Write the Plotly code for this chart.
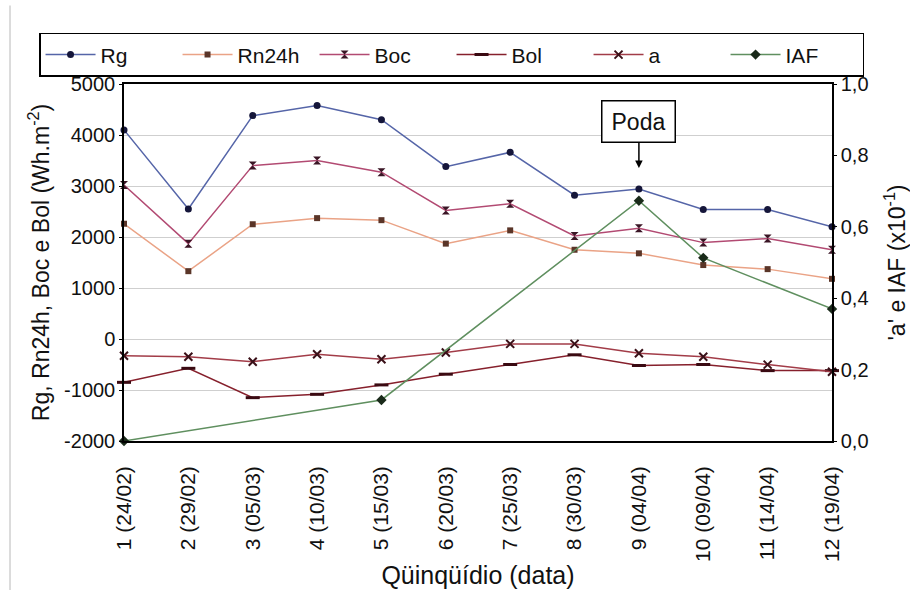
import plotly.graph_objects as go

# Quinquidio labels (number and start date)
categories = ["1 (24/02)", "2 (29/02)", "3 (05/03)", "4 (10/03)", "5 (15/03)", "6 (20/03)",
              "7 (25/03)", "8 (30/03)", "9 (04/04)", "10 (09/04)", "11 (14/04)", "12 (19/04)"]
x_idx = list(range(1, len(categories) + 1))

# Energy terms (Wh.m-2), left axis
rg = [4100, 2550, 4380, 4580, 4300, 3380, 3660, 2820, 2940, 2540, 2540, 2200]
rn24h = [2260, 1330, 2250, 2370, 2330, 1870, 2130, 1750, 1680, 1450, 1370, 1180]
boc = [3020, 1870, 3400, 3500, 3270, 2520, 2650, 2020, 2170, 1890, 1970, 1750]
bol = [-850, -575, -1150, -1085, -900, -690, -500, -310, -520, -500, -620, -620]

# 'a' and leaf area index (x10^-1), right axis; IAF measured on some dates only
a_vals = [0.239, 0.236, 0.222, 0.243, 0.229, 0.248, 0.272, 0.272, 0.246, 0.236, 0.214, 0.194]
iaf = [0.0, None, None, None, 0.115, None, None, None, 0.673, 0.513, None, 0.370]

left_ticks = [-2000, -1000, 0, 1000, 2000, 3000, 4000, 5000]
right_ticks = [0.0, 0.2, 0.4, 0.6, 0.8, 1.0]

FONT = "Liberation Sans, Arial, sans-serif"
INK = "#111111"

fig = go.Figure()

def add_series(name, y, line_color, symbol, marker_color, size, axis="y", mline=0):
    fig.add_trace(go.Scatter(
        x=x_idx, y=y, name=name, mode="lines+markers", yaxis=axis,
        line=dict(color=line_color, width=1.5),
        marker=dict(symbol=symbol, size=size, color=marker_color,
                    line=dict(color=marker_color, width=mline)),
        connectgaps=True, cliponaxis=False,
    ))

add_series("Rg", rg, "#5565a8", "circle", "#15163a", 7)
add_series("Rn24h", rn24h, "#eaa386", "square", "#5a3528", 6)
add_series("Boc", boc, "#b24a72", "hourglass", "#3a1525", 8)
add_series("Bol", bol, "#86202c", "line-ew", "#3a0a12", 10, mline=3)
add_series("a", a_vals, "#a23c48", "x-thin", "#3a1018", 8, axis="y2", mline=2)
add_series("IAF", iaf, "#5f8f5f", "diamond", "#1a2a1a", 8, axis="y2")

fig.update_layout(
    width=910, height=590,
    margin=dict(l=124, r=78, t=84, b=149, autoexpand=False),
    paper_bgcolor="white", plot_bgcolor="white",
    separators=",.",
    font=dict(family=FONT, size=20, color=INK),
    showlegend=True,
    legend=dict(
        orientation="h", x=-0.12, xanchor="left", y=1.143, yanchor="top",
        bordercolor="#000000", borderwidth=1.5, bgcolor="white",
        font=dict(size=21), itemwidth=50, entrywidth=72, traceorder="normal",
        tracegroupgap=0,
    ),
    xaxis=dict(
        range=[1, 12], tickmode="array", tickvals=x_idx, ticktext=categories,
        tickangle=-90, ticks="", ticklabelstandoff=15, tickfont=dict(size=21),
        showline=True, linecolor="#000000", linewidth=1.5, mirror=True,
        showgrid=False, zeroline=False, automargin=False,
        title=dict(text="Qüinqüídio (data)", font=dict(size=25), standoff=6),
    ),
    yaxis=dict(
        range=[-2000, 5000], tickmode="array", tickvals=left_ticks,
        ticktext=[str(v) for v in left_ticks],
        ticks="outside", ticklen=3, tickcolor="#000000",
        showline=True, linecolor="#000000", linewidth=1.5,
        showgrid=True, gridcolor="#cfcfcf", gridwidth=1, zeroline=False, automargin=False,
        title=dict(text="Rg, Rn24h, Boc e Bol (Wh.m<sup>-2</sup>)", font=dict(size=23), standoff=8),
    ),
    yaxis2=dict(
        range=[0, 1], overlaying="y", side="right", tickmode="array",
        tickvals=right_ticks, ticktext=[f"{v:.1f}".replace(".", ",") for v in right_ticks],
        ticks="outside", ticklen=3, tickcolor="#000000",
        showline=True, linecolor="#000000", linewidth=1.5,
        showgrid=False, zeroline=False, automargin=False,
        title=dict(text="'a' e IAF (x10<sup>-1</sup>)", font=dict(size=23), standoff=26),
    ),
)

# Pruning date marker
fig.add_annotation(
    x=9, y=0.765, xref="x", yref="paper", text="Poda",
    showarrow=True, ax=0, ay=-46, arrowhead=2, arrowsize=1, arrowwidth=1.5,
    arrowcolor="#000000", bordercolor="#000000", borderwidth=1.5, borderpad=4,
    bgcolor="white", font=dict(size=23, color=INK), width=64, height=32,
)

# Outer frame edge on the left
fig.add_shape(type="line", xref="paper", yref="paper",
              x0=-0.161, x1=-0.161, y0=-0.42, y1=1.22,
              line=dict(color="#d0d0d0", width=1.5))

fig.write_html("out.html")
